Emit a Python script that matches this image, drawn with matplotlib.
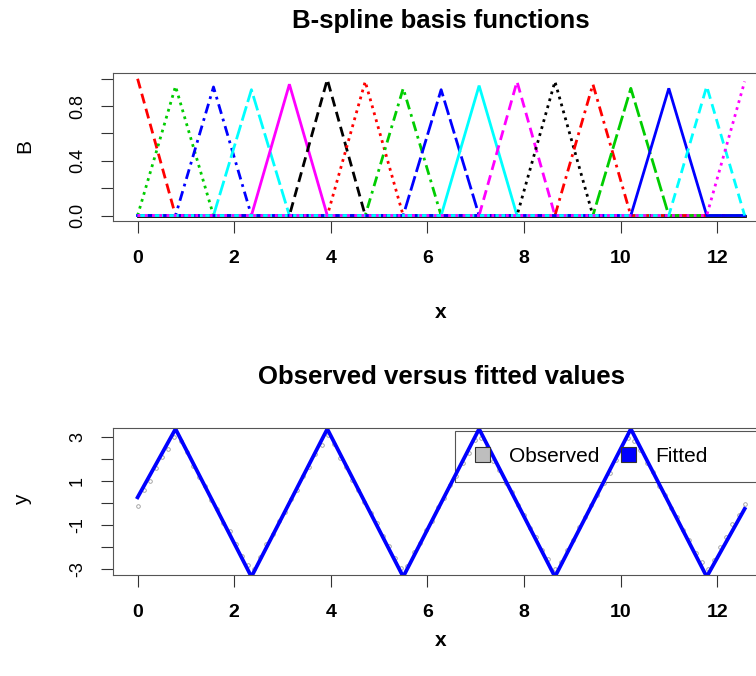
import matplotlib
matplotlib.use("Agg")
import matplotlib.pyplot as plt
from matplotlib.patches import Patch, Rectangle
import numpy as np

plt.rcParams['font.family'] = ['Liberation Sans', 'DejaVu Sans']

# knots of the linear B-spline basis (x of each peak) and peak heights
knots = [0.0, 0.785, 1.571, 2.356, 3.142, 3.927, 4.712, 5.498, 6.283,
         7.069, 7.854, 8.639, 9.425, 10.21, 10.996, 11.781, 12.566]
peaks = [1.0, 0.945, 0.94, 0.92, 0.96, 0.995, 0.98, 0.93, 0.92,
         0.95, 0.98, 0.98, 0.96, 0.93, 0.93, 0.945, 0.98]

# fitted curve value at each knot (piecewise linear between knots)
fitted = [0.25, 3.35, 0.0, -3.35, 0.0, 3.35, 0.0, -3.35, 0.0,
          3.35, 0.0, -3.35, 0.0, 3.35, 0.0, -3.35, -0.27]

# observed values, 100 evenly spaced points from 0 to 4*pi
obs_x = np.linspace(0, 12.566, 100)
obs_y = [-0.12, 0.58, 0.98, 1.58, 2.08, 2.46, 2.98, 2.80, 2.30, 1.66,
         1.18, 0.76, 0.14, -0.30, -0.90, -1.28, -1.86, -2.40, -2.80, -2.98,
         -2.44, -1.86, -1.40, -0.82, -0.42, 0.18, 0.60, 1.20, 1.62, 2.20,
         2.62, 3.08, 2.66, 2.04, 1.62, 1.02, 0.60, 0.02, -0.48, -0.92,
         -1.50, -1.94, -2.52, -2.94, -2.84, -2.22, -1.80, -1.22, -0.80, -0.20,
         0.22, 0.80, 1.24, 1.82, 2.24, 2.84, 2.94, 2.52, 1.92, 1.50,
         0.90, 0.48, -0.10, -0.54, -1.12, -1.56, -2.14, -2.56, -3.02, -2.70,
         -2.12, -1.70, -1.10, -0.66, -0.08, 0.34, 0.92, 1.36, 1.96, 2.38,
         2.96, 2.82, 2.40, 1.80, 1.38, 0.78, 0.36, -0.22, -0.66, -1.24,
         -1.68, -2.26, -2.70, -3.00, -2.58, -1.98, -1.56, -0.98, -0.54, -0.06]

x_ticks = [0, 2, 4, 6, 8, 10, 12]
b_ticks = [0.0, 0.2, 0.4, 0.6, 0.8, 1.0]
b_labels = ['0.0', '', '0.4', '', '0.8', '']
y_ticks = [-3, -2, -1, 0, 1, 2, 3]
y_labels = ['-3', '', '-1', '', '1', '', '3']

# R matplot style: col = 1:6, lty = 1:5 recycled
paleta = ['black', '#FF0000', '#00CD00', '#0000FF', '#00FFFF', '#FF00FF']
tracos = ['-', (0, (3.6, 2.0)), (0, (1.0, 1.6)), (0, (1.0, 1.8, 3.6, 1.8)), (0, (5.4, 1.6))]

W, H = 756, 676
fig = plt.figure(figsize=(W / 100, H / 100), dpi=100)


def px_axes(left, top, right, bottom):
    return fig.add_axes([left / W, 1 - bottom / H, (right - left) / W, (bottom - top) / H])


def estilo_eixos(ax):
    for s in ax.spines.values():
        s.set_color('#555555')
        s.set_linewidth(0.8)
    ax.tick_params(axis='both', direction='out', length=8.6, width=0.8, color='#333333')
    ax.tick_params(axis='x', pad=12)
    ax.tick_params(axis='y', pad=11)
    for lab in ax.get_xticklabels():
        lab.set_fontsize(14)
        lab.set_fontweight('bold')
    for lab in ax.get_yticklabels():
        lab.set_fontsize(13)
        lab.set_rotation(90)
        lab.set_va('center')


# ---------- top panel: basis functions ----------
ax1 = px_axes(113.3, 73.3, 769, 221)
x_fim = knots[-1]
# column 1 of the matrix is all zeros (black solid)
ax1.plot([0, x_fim], [0, 0], color=paleta[0], linestyle=tracos[0], lw=2.0)
for k in range(len(knots)):
    xs, ys = [], []
    if k > 0:
        xs += [0, knots[k - 1]]
        ys += [0, 0]
    xs.append(knots[k])
    ys.append(peaks[k])
    if k < len(knots) - 1:
        xs += [knots[k + 1], x_fim]
        ys += [0, 0]
    j = k + 1
    ax1.plot(xs, ys, color=paleta[j % 6], linestyle=tracos[j % 5], lw=2.0,
             dash_capstyle='butt', solid_joinstyle='miter')

ax1.set_xlim(-0.503, 13.07)
ax1.set_ylim(-0.04, 1.04)
ax1.set_xticks(x_ticks)
ax1.set_yticks(b_ticks)
ax1.set_yticklabels(b_labels)
estilo_eixos(ax1)

# ---------- bottom panel: observed vs fitted ----------
ax2 = px_axes(113.3, 428.3, 769, 575)
ax2.plot(obs_x, obs_y, linestyle='none', marker='o', markersize=2.6,
         mfc='none', mec='#9a9a9a', mew=0.6)
ax2.plot(knots, fitted, color='#0000FF', lw=2.7)
ax2.set_xlim(-0.503, 13.07)
ax2.set_ylim(-3.27, 3.38)
ax2.set_xticks(x_ticks)
ax2.set_yticks(y_ticks)
ax2.set_yticklabels(y_labels)
estilo_eixos(ax2)
cores_tick = ['#aaaaaa', '#aaaaaa', '#333333', '#333333', '#333333', '#aaaaaa', '#aaaaaa']
for t, c in zip(ax2.yaxis.get_major_ticks(), cores_tick):
    t.tick1line.set_color(c)

# legend: R horizontal legend, frame runs past the right edge
ax2.add_patch(Rectangle((0.521, 0.634), 0.6, 0.3496, transform=ax2.transAxes,
                        fill=False, edgecolor='#555555', lw=0.8))
handles = [Patch(facecolor='#bebebe', edgecolor='#333333', lw=0.8),
           Patch(facecolor='#0000FF', edgecolor='#333333', lw=0.8)]
ax2.legend(handles, ['Observed', 'Fitted'], loc='center left',
           bbox_to_anchor=(0.521, 0.809), frameon=False, ncol=2, fontsize=15,
           handlelength=0.72, handleheight=0.72, handletextpad=0.93,
           columnspacing=1.0, borderpad=0.96, borderaxespad=0)

# titles and axis labels
cx = (113.3 + 769) / 2 / W
fig.text(cx, 1 - 21 / H, 'B-spline basis functions', ha='center', va='center',
         fontsize=18.5, fontweight='bold')
fig.text(cx, 1 - 377 / H, 'Observed versus fitted values', ha='center', va='center',
         fontsize=18.5, fontweight='bold')
fig.text(cx, 1 - 313 / H, 'x', ha='center', va='center', fontsize=15, fontweight='bold')
fig.text(cx, 1 - 640 / H, 'x', ha='center', va='center', fontsize=15, fontweight='bold')
fig.text(25 / W, 1 - 146 / H, 'B', ha='center', va='center', rotation=90, fontsize=15)
fig.text(23 / W, 1 - 500 / H, 'y', ha='center', va='center', rotation=90, fontsize=15)

fig.savefig('out.png', dpi=100)
